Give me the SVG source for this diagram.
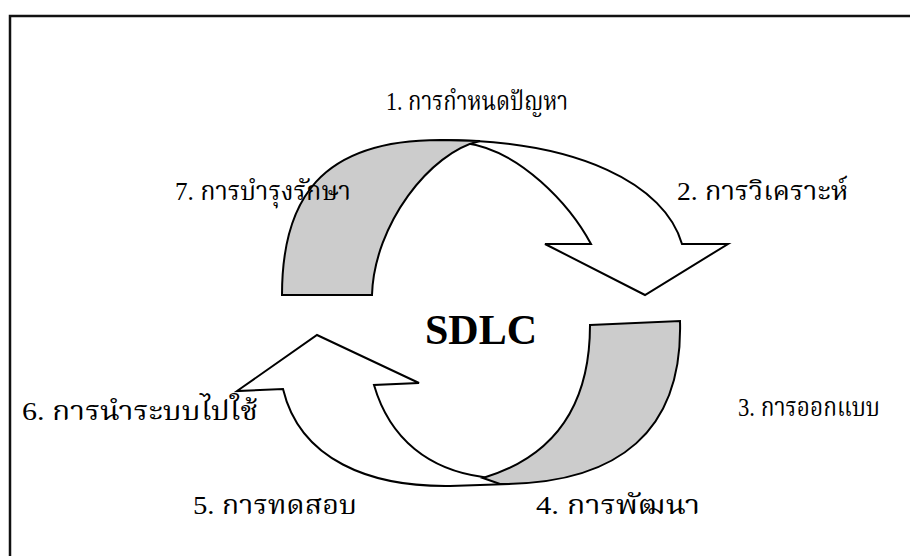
<svg xmlns="http://www.w3.org/2000/svg" width="910" height="556" viewBox="0 0 910 556">
<style>
.lbl{font-family:"Liberation Serif","Noto Serif Thai","Noto Sans Thai",serif;font-size:26px;fill:#000}
.title{font-family:"Liberation Serif",serif;font-size:42px;font-weight:bold;fill:#000}
.w{fill:#fff;stroke:#000;stroke-width:2;stroke-linejoin:miter}
.g{fill:#ccc;stroke:#000;stroke-width:2;stroke-linejoin:miter}
</style>
<rect x="0" y="0" width="910" height="556" fill="#fff"/>
<path d="M10,560 L10,16 L912,16" fill="none" stroke="#111" stroke-width="2.5"/>
<g id="arrows">
<g id="arrow-top">
<path class="w" d="M440,140 C580,140 665,185 682,244 L728,244 L645,295 L545,244 L591,244 C570,205 520,150 465,143 Z"/>
<path class="g" d="M282,295 C282,200 320,140 440,140 L480,141 C430,152 374,225 372,295 Z"/>
</g>
<g id="arrow-bottom">
<path class="w" d="M283,389 C300,460 370,487 450,486 L510,484 L483,477 C430,470 390,440 374,385 L419,383 L317,335 L237,391 Z"/>
<path class="g" d="M590,325 L680,321 C683,430 620,484 500,484 L483,478 C560,455 590,400 590,325 Z"/>
</g>
</g>
<g id="center"><text class="title" x="481" y="344" text-anchor="middle">SDLC</text></g>
<g id="s1"><text class="lbl" x="386" y="110" textLength="182" lengthAdjust="spacingAndGlyphs">1. การกำหนดปัญหา</text></g>
<g id="s2"><text class="lbl" x="677" y="200" textLength="171" lengthAdjust="spacingAndGlyphs">2. การวิเคราะห์</text></g>
<g id="s3"><text class="lbl" x="738" y="416" textLength="142" lengthAdjust="spacingAndGlyphs">3. การออกแบบ</text></g>
<g id="s4"><text class="lbl" x="536" y="514" textLength="164" lengthAdjust="spacingAndGlyphs">4. การพัฒนา</text></g>
<g id="s5"><text class="lbl" x="193" y="514" textLength="164" lengthAdjust="spacingAndGlyphs">5. การทดสอบ</text></g>
<g id="s6"><text class="lbl" x="22" y="420" textLength="236" lengthAdjust="spacingAndGlyphs">6. การนำระบบไปใช้</text></g>
<g id="s7"><text class="lbl" x="175" y="200" textLength="176" lengthAdjust="spacingAndGlyphs">7. การบำรุงรักษา</text></g>
</svg>
